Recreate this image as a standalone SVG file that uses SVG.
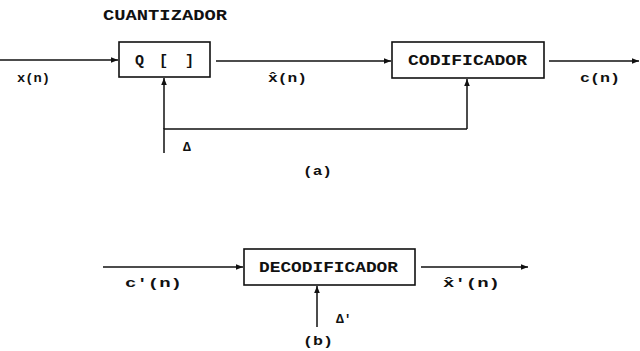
<svg xmlns="http://www.w3.org/2000/svg" width="640" height="351" viewBox="0 0 640 351">
<style>
.t{font-family:"Liberation Mono","DejaVu Sans Mono",monospace;font-weight:bold;fill:#111}
.big{font-size:15px}
.sm{font-size:13px}
.box{fill:none;stroke:#111;stroke-width:1.6}
.ln{fill:none;stroke:#111;stroke-width:1.5}
</style>
<defs>
<marker id="ah" viewBox="0 0 10 10" refX="10" refY="5" markerWidth="7" markerHeight="7" markerUnits="userSpaceOnUse" orient="auto">
<path d="M0,1 L10,5 L0,9 z" fill="#111"/>
</marker>
</defs>
<rect width="640" height="351" fill="#fff"/>
<text class="t big" x="103" y="20" textLength="124" lengthAdjust="spacingAndGlyphs">CUANTIZADOR</text>
<g id="quantizer">
<rect class="box" x="119" y="42" width="91" height="35"/>
<text class="t big" y="65"><tspan x="135">Q</tspan><tspan x="159">[</tspan><tspan x="185">]</tspan></text>
</g>
<g id="codificador">
<rect class="box" x="392" y="42" width="152" height="36"/>
<text class="t big" x="408" y="65" textLength="119" lengthAdjust="spacingAndGlyphs">CODIFICADOR</text>
</g>
<g id="decodificador">
<rect class="box" x="244" y="249" width="171" height="36"/>
<text class="t big" x="259" y="272" textLength="139" lengthAdjust="spacingAndGlyphs">DECODIFICADOR</text>
</g>
<g id="connectors">
<line class="ln" x1="0" y1="60" x2="118" y2="60" marker-end="url(#ah)"/>
<line class="ln" x1="216" y1="61" x2="391" y2="61" marker-end="url(#ah)"/>
<line class="ln" x1="549" y1="61" x2="639" y2="61" marker-end="url(#ah)"/>
<polyline class="ln" points="164,153 164,129 467,129"/>
<line class="ln" x1="164" y1="129" x2="164" y2="78" marker-end="url(#ah)"/>
<line class="ln" x1="467" y1="129" x2="467" y2="79" marker-end="url(#ah)"/>
<line class="ln" x1="103" y1="267" x2="243" y2="267" marker-end="url(#ah)"/>
<line class="ln" x1="421" y1="267" x2="528" y2="267" marker-end="url(#ah)"/>
<line class="ln" x1="317" y1="327" x2="317" y2="286" marker-end="url(#ah)"/>
</g>
<g id="labels">
<text class="t sm" x="17" y="82" textLength="33" lengthAdjust="spacingAndGlyphs">x(n)</text>
<text class="t sm" x="268" y="82" textLength="39" lengthAdjust="spacingAndGlyphs">x̂(n)</text>
<text class="t sm" x="580" y="82" textLength="40" lengthAdjust="spacingAndGlyphs">c(n)</text>
<text class="t sm" x="183" y="151">Δ</text>
<text class="t sm" x="303" y="175" textLength="29" lengthAdjust="spacingAndGlyphs">(a)</text>
<text class="t sm" x="125" y="287" textLength="57" lengthAdjust="spacingAndGlyphs">c'(n)</text>
<text class="t sm" x="443" y="287" textLength="57" lengthAdjust="spacingAndGlyphs">x̂'(n)</text>
<text class="t sm" x="336" y="323">Δ'</text>
<text class="t sm" x="303" y="345" textLength="30" lengthAdjust="spacingAndGlyphs">(b)</text>
</g>
</svg>
